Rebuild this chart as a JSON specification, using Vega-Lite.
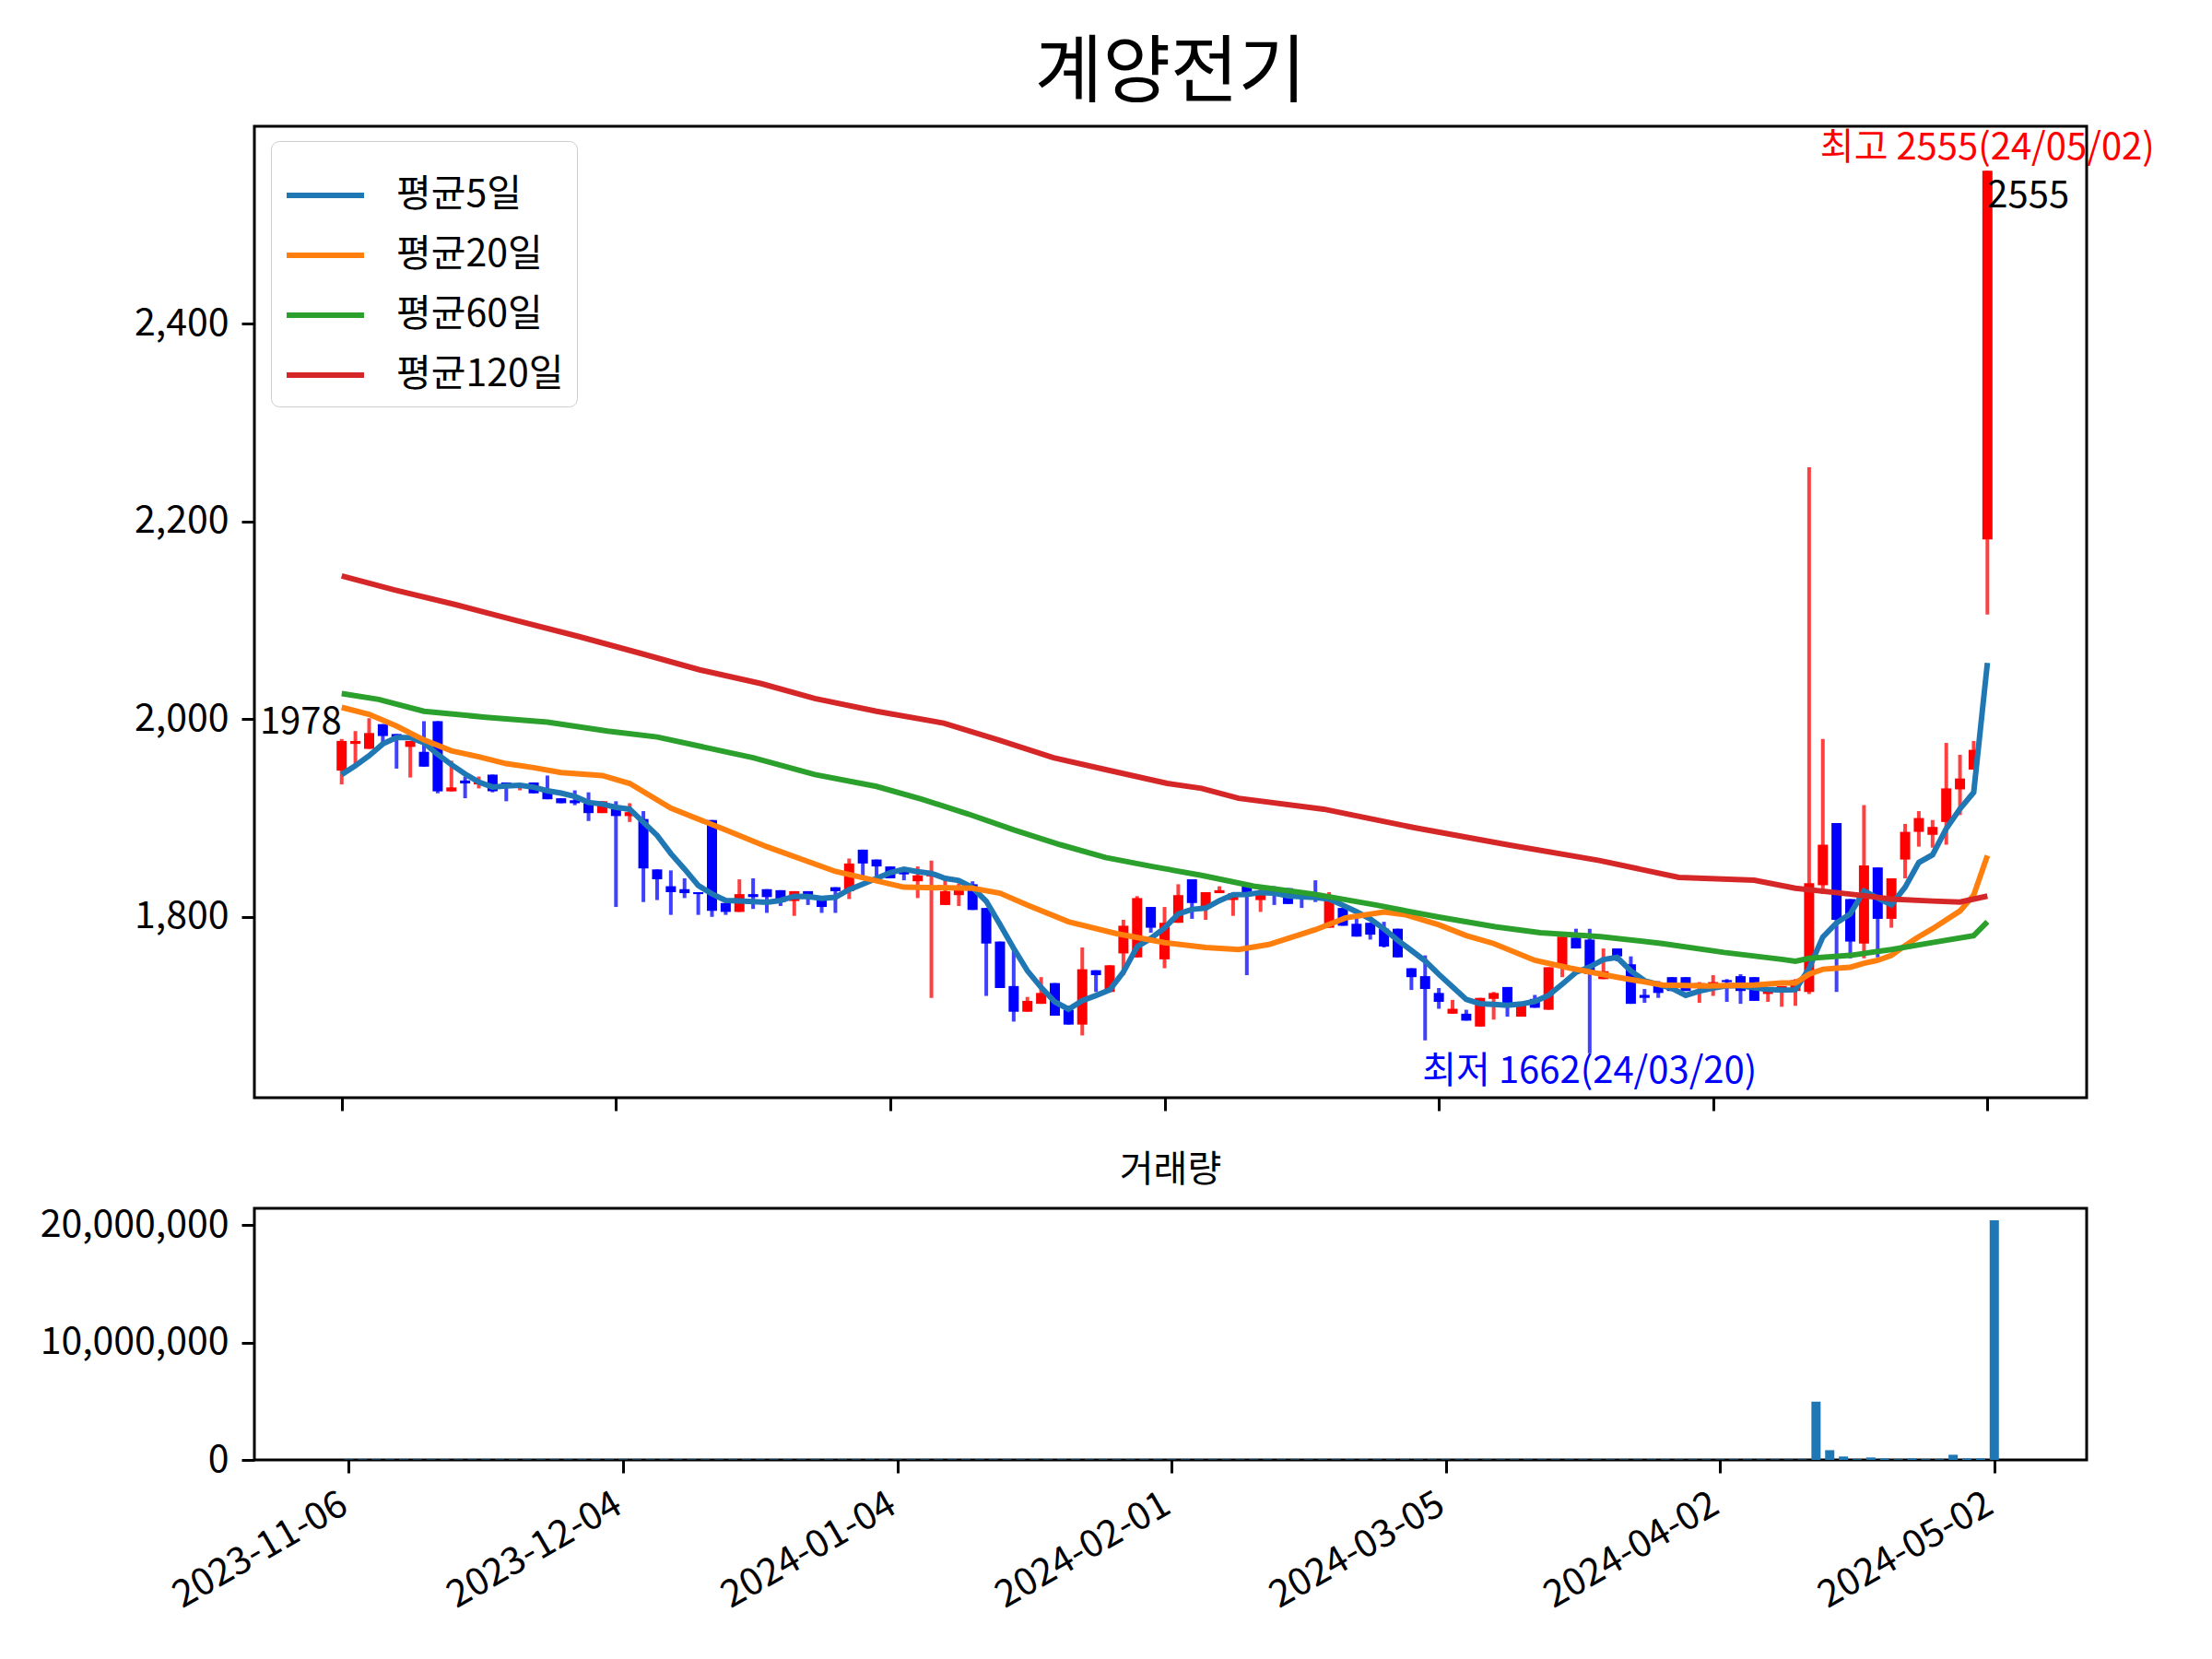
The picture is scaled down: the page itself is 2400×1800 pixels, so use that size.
{
  "$schema": "https://vega.github.io/schema/vega-lite/v6.json",
  "background": "white",
  "padding": {"left": 41, "top": 38, "right": 20, "bottom": 10},
  "config": {
    "font": "Noto Sans CJK KR",
    "view": {"stroke": "black", "strokeWidth": 3},
    "axis": {
      "grid": false, "domain": false, "title": null,
      "tickColor": "black", "tickWidth": 3, "tickSize": 14,
      "labelFontSize": 41, "labelColor": "black", "labelPadding": 14,
      "labelFont": "Noto Sans CJK KR", "labelLimit": 600
    },
    "title": {"font": "Noto Sans CJK KR", "fontWeight": "normal", "color": "black"},
    "concat": {"spacing": 40}
  },
  "datasets": {
    "candles": [
      {"i":0,"o":1948,"h":1980,"l":1934,"c":1978,"vol":40000},
      {"i":1,"o":1975,"h":1988,"l":1952,"c":1978,"vol":40000},
      {"i":2,"o":1970,"h":2001,"l":1970,"c":1986,"vol":40000},
      {"i":3,"o":1995,"h":1995,"l":1973,"c":1983,"vol":40000},
      {"i":4,"o":1985,"h":1985,"l":1950,"c":1982,"vol":40000},
      {"i":5,"o":1972,"h":1978,"l":1941,"c":1978,"vol":40000},
      {"i":6,"o":1967,"h":1998,"l":1952,"c":1952,"vol":40000},
      {"i":7,"o":1998,"h":1998,"l":1925,"c":1927,"vol":40000},
      {"i":8,"o":1927,"h":1958,"l":1927,"c":1931,"vol":40000},
      {"i":9,"o":1938,"h":1942,"l":1920,"c":1935,"vol":40000},
      {"i":10,"o":1934,"h":1942,"l":1930,"c":1937,"vol":40000},
      {"i":11,"o":1944,"h":1944,"l":1926,"c":1927,"vol":40000},
      {"i":12,"o":1936,"h":1936,"l":1917,"c":1932,"vol":40000},
      {"i":13,"o":1932,"h":1935,"l":1928,"c":1935,"vol":40000},
      {"i":14,"o":1936,"h":1936,"l":1925,"c":1925,"vol":40000},
      {"i":15,"o":1927,"h":1943,"l":1919,"c":1919,"vol":40000},
      {"i":16,"o":1920,"h":1920,"l":1915,"c":1915,"vol":40000},
      {"i":17,"o":1918,"h":1928,"l":1913,"c":1915,"vol":40000},
      {"i":18,"o":1915,"h":1926,"l":1897,"c":1905,"vol":40000},
      {"i":19,"o":1905,"h":1917,"l":1905,"c":1917,"vol":40000},
      {"i":20,"o":1909,"h":1917,"l":1810,"c":1902,"vol":40000},
      {"i":21,"o":1902,"h":1915,"l":1896,"c":1906,"vol":40000},
      {"i":22,"o":1899,"h":1907,"l":1815,"c":1849,"vol":40000},
      {"i":23,"o":1848,"h":1848,"l":1817,"c":1838,"vol":40000},
      {"i":24,"o":1831,"h":1847,"l":1802,"c":1825,"vol":40000},
      {"i":25,"o":1828,"h":1839,"l":1819,"c":1824,"vol":40000},
      {"i":26,"o":1825,"h":1825,"l":1802,"c":1823,"vol":40000},
      {"i":27,"o":1898,"h":1898,"l":1800,"c":1806,"vol":40000},
      {"i":28,"o":1814,"h":1814,"l":1802,"c":1805,"vol":40000},
      {"i":29,"o":1805,"h":1838,"l":1805,"c":1823,"vol":40000},
      {"i":30,"o":1823,"h":1839,"l":1808,"c":1820,"vol":40000},
      {"i":31,"o":1828,"h":1828,"l":1804,"c":1820,"vol":40000},
      {"i":32,"o":1827,"h":1827,"l":1811,"c":1815,"vol":40000},
      {"i":33,"o":1816,"h":1826,"l":1801,"c":1826,"vol":40000},
      {"i":34,"o":1826,"h":1826,"l":1812,"c":1822,"vol":40000},
      {"i":35,"o":1820,"h":1820,"l":1804,"c":1810,"vol":40000},
      {"i":36,"o":1830,"h":1830,"l":1804,"c":1826,"vol":40000},
      {"i":37,"o":1826,"h":1859,"l":1818,"c":1854,"vol":40000},
      {"i":38,"o":1868,"h":1868,"l":1841,"c":1854,"vol":40000},
      {"i":39,"o":1858,"h":1858,"l":1841,"c":1851,"vol":40000},
      {"i":40,"o":1851,"h":1851,"l":1839,"c":1839,"vol":40000},
      {"i":41,"o":1847,"h":1847,"l":1837,"c":1843,"vol":40000},
      {"i":42,"o":1836,"h":1851,"l":1819,"c":1842,"vol":40000},
      {"i":43,"o":1841,"h":1857,"l":1718,"c":1845,"vol":40000},
      {"i":44,"o":1812,"h":1837,"l":1812,"c":1826,"vol":40000},
      {"i":45,"o":1822,"h":1834,"l":1811,"c":1828,"vol":40000},
      {"i":46,"o":1833,"h":1836,"l":1807,"c":1807,"vol":40000},
      {"i":47,"o":1809,"h":1809,"l":1720,"c":1773,"vol":40000},
      {"i":48,"o":1775,"h":1775,"l":1728,"c":1728,"vol":40000},
      {"i":49,"o":1730,"h":1768,"l":1694,"c":1704,"vol":40000},
      {"i":50,"o":1704,"h":1719,"l":1704,"c":1715,"vol":40000},
      {"i":51,"o":1712,"h":1739,"l":1712,"c":1723,"vol":40000},
      {"i":52,"o":1733,"h":1733,"l":1700,"c":1700,"vol":40000},
      {"i":53,"o":1706,"h":1706,"l":1691,"c":1691,"vol":40000},
      {"i":54,"o":1691,"h":1769,"l":1680,"c":1747,"vol":40000},
      {"i":55,"o":1746,"h":1746,"l":1724,"c":1741,"vol":40000},
      {"i":56,"o":1724,"h":1751,"l":1724,"c":1751,"vol":40000},
      {"i":57,"o":1763,"h":1797,"l":1741,"c":1791,"vol":40000},
      {"i":58,"o":1759,"h":1821,"l":1759,"c":1819,"vol":40000},
      {"i":59,"o":1810,"h":1810,"l":1784,"c":1789,"vol":40000},
      {"i":60,"o":1757,"h":1810,"l":1748,"c":1794,"vol":40000},
      {"i":61,"o":1794,"h":1833,"l":1794,"c":1822,"vol":40000},
      {"i":62,"o":1838,"h":1838,"l":1798,"c":1814,"vol":40000},
      {"i":63,"o":1811,"h":1825,"l":1797,"c":1825,"vol":40000},
      {"i":64,"o":1824,"h":1831,"l":1824,"c":1827,"vol":40000},
      {"i":65,"o":1817,"h":1824,"l":1801,"c":1824,"vol":40000},
      {"i":66,"o":1831,"h":1831,"l":1741,"c":1823,"vol":40000},
      {"i":67,"o":1817,"h":1828,"l":1805,"c":1824,"vol":40000},
      {"i":68,"o":1826,"h":1831,"l":1812,"c":1822,"vol":40000},
      {"i":69,"o":1829,"h":1829,"l":1813,"c":1813,"vol":40000},
      {"i":70,"o":1826,"h":1826,"l":1809,"c":1819,"vol":40000},
      {"i":71,"o":1824,"h":1837,"l":1815,"c":1820,"vol":40000},
      {"i":72,"o":1789,"h":1825,"l":1789,"c":1816,"vol":40000},
      {"i":73,"o":1809,"h":1809,"l":1791,"c":1791,"vol":40000},
      {"i":74,"o":1793,"h":1799,"l":1780,"c":1780,"vol":40000},
      {"i":75,"o":1794,"h":1794,"l":1777,"c":1782,"vol":40000},
      {"i":76,"o":1788,"h":1795,"l":1769,"c":1770,"vol":40000},
      {"i":77,"o":1788,"h":1788,"l":1759,"c":1759,"vol":40000},
      {"i":78,"o":1748,"h":1748,"l":1726,"c":1739,"vol":40000},
      {"i":79,"o":1740,"h":1761,"l":1675,"c":1727,"vol":40000},
      {"i":80,"o":1723,"h":1728,"l":1707,"c":1714,"vol":40000},
      {"i":81,"o":1702,"h":1716,"l":1702,"c":1707,"vol":40000},
      {"i":82,"o":1702,"h":1706,"l":1695,"c":1695,"vol":40000},
      {"i":83,"o":1689,"h":1718,"l":1689,"c":1718,"vol":40000},
      {"i":84,"o":1717,"h":1724,"l":1696,"c":1723,"vol":40000},
      {"i":85,"o":1729,"h":1729,"l":1699,"c":1709,"vol":40000},
      {"i":86,"o":1699,"h":1714,"l":1699,"c":1714,"vol":40000},
      {"i":87,"o":1717,"h":1721,"l":1708,"c":1708,"vol":40000},
      {"i":88,"o":1706,"h":1749,"l":1706,"c":1749,"vol":40000},
      {"i":89,"o":1749,"h":1780,"l":1739,"c":1780,"vol":40000},
      {"i":90,"o":1779,"h":1788,"l":1768,"c":1768,"vol":40000},
      {"i":91,"o":1777,"h":1788,"l":1662,"c":1742,"vol":40000},
      {"i":92,"o":1737,"h":1768,"l":1737,"c":1745,"vol":40000},
      {"i":93,"o":1768,"h":1768,"l":1755,"c":1760,"vol":40000},
      {"i":94,"o":1752,"h":1760,"l":1712,"c":1712,"vol":40000},
      {"i":95,"o":1721,"h":1727,"l":1713,"c":1718,"vol":40000},
      {"i":96,"o":1733,"h":1735,"l":1718,"c":1723,"vol":40000},
      {"i":97,"o":1739,"h":1739,"l":1725,"c":1725,"vol":40000},
      {"i":98,"o":1739,"h":1739,"l":1725,"c":1725,"vol":40000},
      {"i":99,"o":1731,"h":1734,"l":1713,"c":1733,"vol":40000},
      {"i":100,"o":1731,"h":1741,"l":1720,"c":1734,"vol":40000},
      {"i":101,"o":1736,"h":1737,"l":1714,"c":1734,"vol":40000},
      {"i":102,"o":1740,"h":1742,"l":1712,"c":1725,"vol":40000},
      {"i":103,"o":1739,"h":1739,"l":1715,"c":1715,"vol":40000},
      {"i":104,"o":1722,"h":1725,"l":1714,"c":1725,"vol":40000},
      {"i":105,"o":1727,"h":1730,"l":1709,"c":1730,"vol":40000},
      {"i":106,"o":1725,"h":1737,"l":1710,"c":1736,"vol":40000},
      {"i":107,"o":1724,"h":2255,"l":1722,"c":1834,"vol":4960000},
      {"i":108,"o":1832,"h":1980,"l":1823,"c":1873,"vol":830000},
      {"i":109,"o":1895,"h":1895,"l":1724,"c":1797,"vol":290000},
      {"i":110,"o":1818,"h":1818,"l":1758,"c":1775,"vol":60000},
      {"i":111,"o":1773,"h":1913,"l":1758,"c":1852,"vol":210000},
      {"i":112,"o":1850,"h":1850,"l":1759,"c":1798,"vol":130000},
      {"i":113,"o":1798,"h":1839,"l":1789,"c":1839,"vol":60000},
      {"i":114,"o":1858,"h":1894,"l":1839,"c":1886,"vol":130000},
      {"i":115,"o":1886,"h":1907,"l":1871,"c":1900,"vol":60000},
      {"i":116,"o":1883,"h":1898,"l":1870,"c":1891,"vol":60000},
      {"i":117,"o":1896,"h":1976,"l":1873,"c":1930,"vol":440000},
      {"i":118,"o":1929,"h":1964,"l":1903,"c":1940,"vol":130000},
      {"i":119,"o":1949,"h":1978,"l":1949,"c":1969,"vol":130000},
      {"i":120,"o":2182,"h":2555,"l":2106,"c":2555,"vol":20400000}
    ],
    "ma": [
      {"i":0,"s":"평균5일","ma":1944},{"i":1,"s":"평균5일","ma":1953},{"i":2,"s":"평균5일","ma":1963},{"i":3,"s":"평균5일","ma":1975},
      {"i":4,"s":"평균5일","ma":1981.4},{"i":5,"s":"평균5일","ma":1981.4},{"i":6,"s":"평균5일","ma":1976.2},{"i":7,"s":"평균5일","ma":1964.4},
      {"i":8,"s":"평균5일","ma":1954},{"i":9,"s":"평균5일","ma":1944.6},{"i":10,"s":"평균5일","ma":1936.4},{"i":11,"s":"평균5일","ma":1931.4},
      {"i":12,"s":"평균5일","ma":1932.4},{"i":13,"s":"평균5일","ma":1933.2},{"i":14,"s":"평균5일","ma":1931.2},{"i":15,"s":"평균5일","ma":1927.6},
      {"i":16,"s":"평균5일","ma":1925.2},{"i":17,"s":"평균5일","ma":1921.8},{"i":18,"s":"평균5일","ma":1915.8},{"i":19,"s":"평균5일","ma":1914.2},
      {"i":20,"s":"평균5일","ma":1910.8},{"i":21,"s":"평균5일","ma":1909},{"i":22,"s":"평균5일","ma":1895.8},{"i":23,"s":"평균5일","ma":1882.4},
      {"i":24,"s":"평균5일","ma":1864},{"i":25,"s":"평균5일","ma":1848.4},{"i":26,"s":"평균5일","ma":1831.8},{"i":27,"s":"평균5일","ma":1823.2},
      {"i":28,"s":"평균5일","ma":1816.6},{"i":29,"s":"평균5일","ma":1816.2},{"i":30,"s":"평균5일","ma":1815.4},{"i":31,"s":"평균5일","ma":1814.8},
      {"i":32,"s":"평균5일","ma":1816.6},{"i":33,"s":"평균5일","ma":1820.8},{"i":34,"s":"평균5일","ma":1820.6},{"i":35,"s":"평균5일","ma":1818.6},
      {"i":36,"s":"평균5일","ma":1819.8},{"i":37,"s":"평균5일","ma":1827.6},{"i":38,"s":"평균5일","ma":1833.2},{"i":39,"s":"평균5일","ma":1839},
      {"i":40,"s":"평균5일","ma":1844.8},{"i":41,"s":"평균5일","ma":1848.2},{"i":42,"s":"평균5일","ma":1845.8},{"i":43,"s":"평균5일","ma":1844},
      {"i":44,"s":"평균5일","ma":1839},{"i":45,"s":"평균5일","ma":1836.8},{"i":46,"s":"평균5일","ma":1829.6},{"i":47,"s":"평균5일","ma":1815.8},
      {"i":48,"s":"평균5일","ma":1792.4},{"i":49,"s":"평균5일","ma":1768},{"i":50,"s":"평균5일","ma":1745.4},{"i":51,"s":"평균5일","ma":1728.6},
      {"i":52,"s":"평균5일","ma":1714},{"i":53,"s":"평균5일","ma":1706.6},{"i":54,"s":"평균5일","ma":1715.2},{"i":55,"s":"평균5일","ma":1720.4},
      {"i":56,"s":"평균5일","ma":1726},{"i":57,"s":"평균5일","ma":1744.2},{"i":58,"s":"평균5일","ma":1769.8},{"i":59,"s":"평균5일","ma":1778.2},
      {"i":60,"s":"평균5일","ma":1788.8},{"i":61,"s":"평균5일","ma":1803},{"i":62,"s":"평균5일","ma":1807.6},{"i":63,"s":"평균5일","ma":1808.8},
      {"i":64,"s":"평균5일","ma":1816.4},{"i":65,"s":"평균5일","ma":1822.4},{"i":66,"s":"평균5일","ma":1822.6},{"i":67,"s":"평균5일","ma":1824.6},
      {"i":68,"s":"평균5일","ma":1824},{"i":69,"s":"평균5일","ma":1821.2},{"i":70,"s":"평균5일","ma":1820.2},{"i":71,"s":"평균5일","ma":1819.6},
      {"i":72,"s":"평균5일","ma":1818},{"i":73,"s":"평균5일","ma":1811.8},{"i":74,"s":"평균5일","ma":1805.2},{"i":75,"s":"평균5일","ma":1797.8},
      {"i":76,"s":"평균5일","ma":1787.8},{"i":77,"s":"평균5일","ma":1776.4},{"i":78,"s":"평균5일","ma":1766},{"i":79,"s":"평균5일","ma":1755.4},
      {"i":80,"s":"평균5일","ma":1741.8},{"i":81,"s":"평균5일","ma":1729.2},{"i":82,"s":"평균5일","ma":1716.4},{"i":83,"s":"평균5일","ma":1712.2},
      {"i":84,"s":"평균5일","ma":1711.4},{"i":85,"s":"평균5일","ma":1710.4},{"i":86,"s":"평균5일","ma":1711.8},{"i":87,"s":"평균5일","ma":1714.4},
      {"i":88,"s":"평균5일","ma":1720.6},{"i":89,"s":"평균5일","ma":1732},{"i":90,"s":"평균5일","ma":1743.8},{"i":91,"s":"평균5일","ma":1749.4},
      {"i":92,"s":"평균5일","ma":1756.8},{"i":93,"s":"평균5일","ma":1759},{"i":94,"s":"평균5일","ma":1745.4},{"i":95,"s":"평균5일","ma":1735.4},
      {"i":96,"s":"평균5일","ma":1731.6},{"i":97,"s":"평균5일","ma":1727.6},{"i":98,"s":"평균5일","ma":1720.6},{"i":99,"s":"평균5일","ma":1724.8},
      {"i":100,"s":"평균5일","ma":1728},{"i":101,"s":"평균5일","ma":1730.2},{"i":102,"s":"평균5일","ma":1730.2},{"i":103,"s":"평균5일","ma":1728.2},
      {"i":104,"s":"평균5일","ma":1726.6},{"i":105,"s":"평균5일","ma":1725.8},{"i":106,"s":"평균5일","ma":1726.2},{"i":107,"s":"평균5일","ma":1748},
      {"i":108,"s":"평균5일","ma":1779.6},{"i":109,"s":"평균5일","ma":1794},{"i":110,"s":"평균5일","ma":1803},{"i":111,"s":"평균5일","ma":1826.2},
      {"i":112,"s":"평균5일","ma":1819},{"i":113,"s":"평균5일","ma":1812.2},{"i":114,"s":"평균5일","ma":1830},{"i":115,"s":"평균5일","ma":1855},
      {"i":116,"s":"평균5일","ma":1862.8},{"i":117,"s":"평균5일","ma":1889.2},{"i":118,"s":"평균5일","ma":1909.4},{"i":119,"s":"평균5일","ma":1926},
      {"i":120,"s":"평균5일","ma":2057},

      {"i":0,"s":"평균20일","ma":2012},{"i":2,"s":"평균20일","ma":2005},{"i":4,"s":"평균20일","ma":1993},{"i":6,"s":"평균20일","ma":1979},
      {"i":8,"s":"평균20일","ma":1968},{"i":10,"s":"평균20일","ma":1962},{"i":12,"s":"평균20일","ma":1955},{"i":14,"s":"평균20일","ma":1951},
      {"i":16,"s":"평균20일","ma":1946},{"i":19,"s":"평균20일","ma":1943},{"i":21,"s":"평균20일","ma":1935},{"i":24,"s":"평균20일","ma":1910},
      {"i":28,"s":"평균20일","ma":1888},{"i":31,"s":"평균20일","ma":1871},{"i":36,"s":"평균20일","ma":1846},{"i":41,"s":"평균20일","ma":1830},
      {"i":46,"s":"평균20일","ma":1829},{"i":48,"s":"평균20일","ma":1824},{"i":50,"s":"평균20일","ma":1812},{"i":53,"s":"평균20일","ma":1795},
      {"i":56.5,"s":"평균20일","ma":1783},{"i":60,"s":"평균20일","ma":1774},{"i":63,"s":"평균20일","ma":1769},{"i":65.4,"s":"평균20일","ma":1767},
      {"i":67.6,"s":"평균20일","ma":1772},{"i":71,"s":"평균20일","ma":1787},{"i":73.2,"s":"평균20일","ma":1799},{"i":76,"s":"평균20일","ma":1805},
      {"i":77.6,"s":"평균20일","ma":1802},{"i":80,"s":"평균20일","ma":1792},{"i":82,"s":"평균20일","ma":1781},{"i":84,"s":"평균20일","ma":1773},
      {"i":87,"s":"평균20일","ma":1756},{"i":89.6,"s":"평균20일","ma":1748},{"i":93,"s":"평균20일","ma":1739},{"i":96.3,"s":"평균20일","ma":1731},
      {"i":99.6,"s":"평균20일","ma":1730},{"i":103,"s":"평균20일","ma":1731},{"i":105,"s":"평균20일","ma":1733},{"i":106,"s":"평균20일","ma":1733},
      {"i":107,"s":"평균20일","ma":1742},{"i":108,"s":"평균20일","ma":1747},{"i":109,"s":"평균20일","ma":1748},{"i":110,"s":"평균20일","ma":1749},
      {"i":111,"s":"평균20일","ma":1753},{"i":112,"s":"평균20일","ma":1756},{"i":113,"s":"평균20일","ma":1761},{"i":114,"s":"평균20일","ma":1771},
      {"i":115,"s":"평균20일","ma":1780},{"i":116,"s":"평균20일","ma":1788},{"i":117,"s":"평균20일","ma":1797},{"i":118,"s":"평균20일","ma":1806},
      {"i":119,"s":"평균20일","ma":1822},{"i":120,"s":"평균20일","ma":1862},

      {"i":0,"s":"평균60일","ma":2026},{"i":2.7,"s":"평균60일","ma":2020},{"i":6,"s":"평균60일","ma":2008},{"i":10.5,"s":"평균60일","ma":2002},
      {"i":15,"s":"평균60일","ma":1997},{"i":19.4,"s":"평균60일","ma":1988},{"i":23,"s":"평균60일","ma":1982},{"i":30,"s":"평균60일","ma":1961},
      {"i":34.5,"s":"평균60일","ma":1944},{"i":39,"s":"평균60일","ma":1932},{"i":42.3,"s":"평균60일","ma":1919},{"i":45.7,"s":"평균60일","ma":1904},
      {"i":49,"s":"평균60일","ma":1888},{"i":52.4,"s":"평균60일","ma":1873},{"i":55.7,"s":"평균60일","ma":1860},{"i":59.1,"s":"평균60일","ma":1851},
      {"i":62.7,"s":"평균60일","ma":1842},{"i":66.5,"s":"평균60일","ma":1831},{"i":70.9,"s":"평균60일","ma":1823},{"i":75.4,"s":"평균60일","ma":1812},
      {"i":79.9,"s":"평균60일","ma":1800},{"i":84.1,"s":"평균60일","ma":1790},{"i":87.4,"s":"평균60일","ma":1784},{"i":91.8,"s":"평균60일","ma":1780},
      {"i":96.3,"s":"평균60일","ma":1773},{"i":100.8,"s":"평균60일","ma":1764},{"i":105,"s":"평균60일","ma":1757},{"i":106,"s":"평균60일","ma":1755},
      {"i":107,"s":"평균60일","ma":1758},{"i":110,"s":"평균60일","ma":1761},{"i":113,"s":"평균60일","ma":1767},{"i":116,"s":"평균60일","ma":1774},
      {"i":119,"s":"평균60일","ma":1781},{"i":120,"s":"평균60일","ma":1795},

      {"i":0,"s":"평균120일","ma":2145},{"i":3.8,"s":"평균120일","ma":2131},{"i":8.3,"s":"평균120일","ma":2116},{"i":12.7,"s":"평균120일","ma":2100},
      {"i":17.2,"s":"평균120일","ma":2084},{"i":21.7,"s":"평균120일","ma":2067},{"i":26.1,"s":"평균120일","ma":2050},{"i":30.6,"s":"평균120일","ma":2036},
      {"i":34.5,"s":"평균120일","ma":2021},{"i":39,"s":"평균120일","ma":2008},{"i":43.9,"s":"평균120일","ma":1996},{"i":47.9,"s":"평균120일","ma":1979},
      {"i":51.9,"s":"평균120일","ma":1961},{"i":55.7,"s":"평균120일","ma":1949},{"i":60.2,"s":"평균120일","ma":1935},{"i":62.7,"s":"평균120일","ma":1930},
      {"i":65.4,"s":"평균120일","ma":1920},{"i":71.6,"s":"평균120일","ma":1909},{"i":78.3,"s":"평균120일","ma":1890},{"i":85,"s":"평균120일","ma":1873},
      {"i":91.7,"s":"평균120일","ma":1857},{"i":97.5,"s":"평균120일","ma":1840},{"i":103,"s":"평균120일","ma":1837},{"i":106,"s":"평균120일","ma":1829},
      {"i":110,"s":"평균120일","ma":1823},{"i":113,"s":"평균120일","ma":1818},{"i":116,"s":"평균120일","ma":1816},{"i":118,"s":"평균120일","ma":1815},
      {"i":119,"s":"평균120일","ma":1818},{"i":120,"s":"평균120일","ma":1821}
    ]
  },
  "vconcat": [
    {
      "width": 1988,
      "height": 1054,
      "title": {"text": "계양전기", "fontSize": 80, "offset": 16, "frame": "group", "anchor": "middle"},
      "encoding": {
        "x": {"field": "i", "type": "quantitative",
              "scale": {"domain": [-6.03, 126.9], "nice": false, "zero": false},
              "axis": {"values": [0, 20, 40, 60, 80, 100, 120], "labels": false}},
        "y": {"type": "quantitative",
              "scale": {"domain": [1617, 2600], "nice": false, "zero": false},
              "axis": {"values": [1800, 2000, 2200, 2400], "format": ",.0f"}}
      },
      "layer": [
        {
          "data": {"name": "candles"},
          "mark": {"type": "rule", "strokeWidth": 4, "opacity": 0.75},
          "encoding": {
            "y": {"field": "l", "type": "quantitative"},
            "y2": {"field": "h"},
            "color": {"condition": {"test": "datum.c >= datum.o", "value": "#ff0000"}, "value": "#0000ff"}
          }
        },
        {
          "data": {"name": "candles"},
          "mark": {"type": "bar", "size": 11},
          "encoding": {
            "y": {"field": "o", "type": "quantitative"},
            "y2": {"field": "c"},
            "color": {"condition": {"test": "datum.c >= datum.o", "value": "#ff0000"}, "value": "#0000ff"}
          }
        },
        {
          "data": {"name": "ma"},
          "mark": {"type": "line", "strokeWidth": 6},
          "encoding": {
            "y": {"field": "ma", "type": "quantitative"},
            "color": {
              "field": "s", "type": "nominal",
              "scale": {"domain": ["평균5일", "평균20일", "평균60일", "평균120일"],
                        "range": ["#1f77b4", "#ff7f0e", "#2ca02c", "#d62728"]},
              "legend": {
                "title": null, "orient": "none", "legendX": 18, "legendY": 16,
                "symbolType": "stroke", "symbolStrokeWidth": 6, "symbolSize": 7056,
                "labelFontSize": 41, "labelColor": "black", "labelOffset": 32, "labelLimit": 600,
                "labelFont": "Noto Sans CJK KR",
                "fillColor": "white", "strokeColor": "#cccccc",
                "cornerRadius": 9, "padding": 14, "rowPadding": -30
              }
            }
          }
        },
        {
          "data": {"values": [{"i": 0, "p": 1978, "t": "1978"}]},
          "mark": {"type": "text", "align": "right", "baseline": "bottom", "fontSize": 40, "color": "black"},
          "encoding": {"y": {"field": "p", "type": "quantitative"}, "text": {"field": "t"}}
        },
        {
          "data": {"values": [{"i": 120, "p": 2555, "t": "2555"}]},
          "mark": {"type": "text", "align": "left", "baseline": "top", "dy": 8, "fontSize": 40, "color": "black"},
          "encoding": {"y": {"field": "p", "type": "quantitative"}, "text": {"field": "t"}}
        },
        {
          "data": {"values": [{"i": 120, "p": 2555, "t": "최고 2555(24/05/02)"}]},
          "mark": {"type": "text", "align": "center", "baseline": "bottom", "dy": -4, "fontSize": 40, "color": "#ff0000"},
          "encoding": {"y": {"field": "p", "type": "quantitative"}, "text": {"field": "t"}}
        },
        {
          "data": {"values": [{"i": 91, "p": 1662, "t": "최저 1662(24/03/20)"}]},
          "mark": {"type": "text", "align": "center", "baseline": "top", "fontSize": 40, "color": "#0000ff"},
          "encoding": {"y": {"field": "p", "type": "quantitative"}, "text": {"field": "t"}}
        }
      ]
    },
    {
      "width": 1988,
      "height": 273,
      "title": {"text": "거래량", "fontSize": 40, "offset": 18, "frame": "group", "anchor": "middle"},
      "data": {"name": "candles"},
      "mark": {"type": "bar", "size": 10, "color": "#1f77b4"},
      "encoding": {
        "x": {"field": "i", "type": "quantitative",
              "scale": {"domain": [-6.55, 126.4], "nice": false, "zero": false},
              "axis": {"values": [0, 20, 40, 60, 80, 100, 120], "labelAngle": -30, "labelAlign": "right", "labelBaseline": "top", "labelOffset": -15,
                       "labelExpr": "['2023-11-06','2023-12-04','2024-01-04','2024-02-01','2024-03-05','2024-04-02','2024-05-02'][round(datum.value/20)]"}},
        "y": {"field": "vol", "type": "quantitative",
              "scale": {"domain": [0, 21420000], "nice": false},
              "axis": {"values": [0, 10000000, 20000000], "format": ",.0f"}}
      }
    }
  ]
}
